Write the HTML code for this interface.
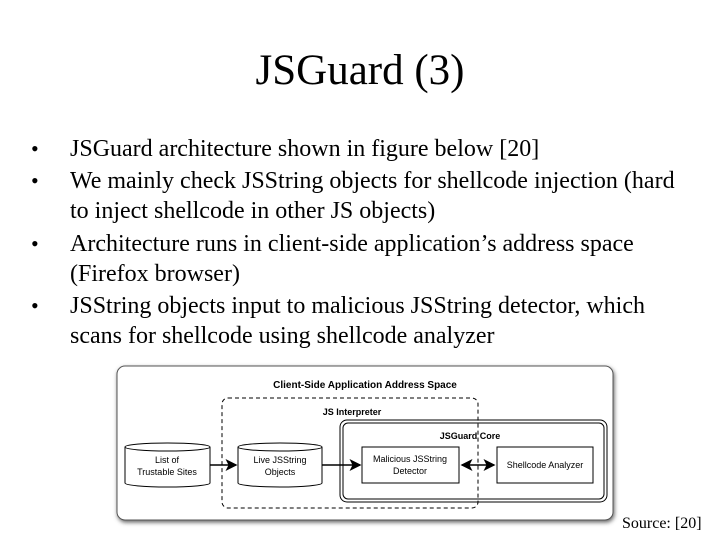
<!DOCTYPE html>
<html><head><style>
body{margin:0;width:720px;height:540px;background:#fff;overflow:hidden;position:relative;font-family:"Liberation Serif",serif;}
h1{position:absolute;top:46px;left:0;width:720px;text-align:center;margin:0;font-weight:normal;font-size:43px;}
.l{position:absolute;left:70px;font-size:24px;white-space:nowrap;line-height:30px;}
.b{position:absolute;left:31px;font-size:22px;line-height:30px;}
</style></head><body>
<h1>JSGuard (3)</h1>
<div class="b" style="top:134px">•</div><div class="l" style="top:134px">JSGuard architecture shown in figure below [20]</div>
<div class="b" style="top:166px">•</div><div class="l" style="top:166px">We mainly check JSString objects for shellcode injection (hard</div>
<div class="l" style="top:196px">to inject shellcode in other JS objects)</div>
<div class="b" style="top:229px">•</div><div class="l" style="top:229px">Architecture runs in client-side application’s address space</div>
<div class="l" style="top:259px">(Firefox browser)</div>
<div class="b" style="top:291px">•</div><div class="l" style="top:291px">JSString objects input to malicious JSString detector, which</div>
<div class="l" style="top:321px">scans for shellcode using shellcode analyzer</div>
<svg style="position:absolute;left:0;top:0" width="720" height="540" font-family="Liberation Sans,sans-serif">
<defs><filter id="s"><feDropShadow dx="1" dy="2" stdDeviation="2" flood-color="#666"/></filter>
<marker id="a" markerWidth="8" markerHeight="8" refX="7" refY="4" orient="auto"><path d="M0,0L8,4L0,8L2,4Z" fill="#000"/></marker>
<marker id="a2" markerWidth="8" markerHeight="8" refX="1" refY="4" orient="auto"><path d="M8,0L0,4L8,8L6,4Z" fill="#000"/></marker></defs>
<rect x="117" y="366" width="496" height="154" rx="8" fill="#fff" stroke="#555" filter="url(#s)"/>
<text x="365" y="388" font-size="10" font-weight="bold" text-anchor="middle">Client-Side Application Address Space</text>
<rect x="222" y="398" width="256" height="110" rx="6" fill="none" stroke="#000" stroke-dasharray="4,3"/>
<text x="352" y="415" font-size="9" font-weight="bold" text-anchor="middle">JS Interpreter</text>
<rect x="340" y="420" width="267" height="82" rx="7" fill="none" stroke="#000" stroke-width="1"/>
<rect x="343" y="423" width="261" height="76" rx="5" fill="none" stroke="#000" stroke-width="1"/>
<text x="470" y="439" font-size="9" font-weight="bold" text-anchor="middle">JSGuard Core</text>
<g fill="#fff" stroke="#000">
<path d="M125,447V483A42.5,4 0 0 0 210,483V447"/><ellipse cx="167.5" cy="447" rx="42.5" ry="4"/>
<path d="M238,447V483A42,4 0 0 0 322,483V447"/><ellipse cx="280" cy="447" rx="42" ry="4"/>
<rect x="362" y="447" width="97" height="36"/><rect x="497" y="447" width="96" height="36"/>
</g>
<g font-size="9" text-anchor="middle">
<text x="167" y="463">List of</text><text x="167" y="475">Trustable Sites</text>
<text x="280" y="463">Live JSString</text><text x="280" y="475">Objects</text>
<text x="410" y="462">Malicious JSString</text><text x="410" y="474">Detector</text>
<text x="545" y="468">Shellcode Analyzer</text></g>
<g stroke="#000"><line x1="210" y1="465" x2="236" y2="465" marker-end="url(#a)" stroke-width="1.5"/>
<line x1="322" y1="465" x2="360" y2="465" marker-end="url(#a)" stroke-width="1.5"/>
<line x1="462" y1="465" x2="494" y2="465" marker-end="url(#a)" marker-start="url(#a2)" stroke-width="1.5"/></g>
</svg>
<div style="position:absolute;left:622px;top:515px;font-size:16px;">Source: [20]</div>
</body></html>
